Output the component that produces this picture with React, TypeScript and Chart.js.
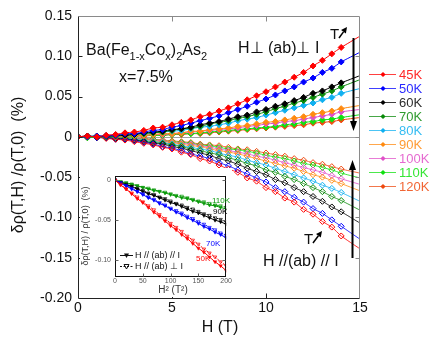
import React, { useEffect, useRef } from "react";
import { Chart, registerables } from "chart.js";

Chart.register(...registerables);

const FONT = "'Liberation Sans', Arial, Helvetica, sans-serif";

// ---------- main panel data ----------
const fieldH = [0, 0.5, 1, 1.5, 2, 2.5, 3, 3.5, 4, 4.5, 5, 5.5, 6, 6.5, 7, 7.5, 8, 8.5, 9, 9.5, 10, 10.5, 11, 11.5, 12, 12.5, 13, 13.5, 14, 15];
const temperatureLabels = ["45K", "50K", "60K", "70K", "80K", "90K", "100K", "110K", "120K"];
const seriesColors = ["#ff0000", "#0000ff", "#000000", "#0a8a0a", "#10b0f0", "#ff8a10", "#e050c8", "#10e010", "#ee4a10"];

// H ⊥ (ab) ⊥ I  (filled diamonds, positive)
const pos45K = [0.000, 0.001, 0.000, 0.002, 0.003, 0.005, 0.006, 0.008, 0.011, 0.012, 0.015, 0.018, 0.021, 0.025, 0.028, 0.032, 0.036, 0.041, 0.046, 0.051, 0.056, 0.062, 0.068, 0.074, 0.080, 0.088, 0.095, 0.103, 0.111, 0.125];
const pos50K = [0.000, 0.000, 0.001, 0.001, 0.002, 0.004, 0.004, 0.006, 0.008, 0.009, 0.012, 0.014, 0.017, 0.020, 0.023, 0.026, 0.030, 0.034, 0.038, 0.043, 0.047, 0.052, 0.057, 0.062, 0.068, 0.073, 0.080, 0.085, 0.093, 0.105];
const pos60K = [0.000, 0.001, 0.000, 0.001, 0.002, 0.002, 0.003, 0.005, 0.006, 0.007, 0.009, 0.010, 0.012, 0.015, 0.017, 0.019, 0.022, 0.025, 0.027, 0.031, 0.034, 0.038, 0.041, 0.045, 0.049, 0.054, 0.057, 0.062, 0.067, 0.076];
const pos70K = [0.000, 0.000, 0.001, 0.000, 0.001, 0.002, 0.003, 0.004, 0.005, 0.006, 0.008, 0.010, 0.011, 0.013, 0.016, 0.018, 0.020, 0.023, 0.025, 0.028, 0.031, 0.035, 0.038, 0.042, 0.045, 0.049, 0.053, 0.057, 0.062, 0.071];
const pos80K = [0.000, 0.001, 0.001, 0.002, 0.002, 0.003, 0.004, 0.004, 0.005, 0.006, 0.007, 0.008, 0.010, 0.012, 0.013, 0.015, 0.017, 0.020, 0.022, 0.024, 0.027, 0.030, 0.033, 0.036, 0.039, 0.042, 0.046, 0.049, 0.054, 0.060];
const pos90K = [0.000, 0.000, 0.001, 0.000, 0.001, 0.001, 0.002, 0.002, 0.003, 0.004, 0.004, 0.005, 0.007, 0.007, 0.009, 0.010, 0.011, 0.013, 0.014, 0.016, 0.018, 0.019, 0.021, 0.023, 0.025, 0.028, 0.030, 0.032, 0.035, 0.039];
const pos100K = [0.000, 0.001, 0.000, 0.001, 0.001, 0.001, 0.002, 0.002, 0.003, 0.003, 0.004, 0.005, 0.006, 0.007, 0.008, 0.009, 0.010, 0.011, 0.013, 0.014, 0.016, 0.017, 0.019, 0.020, 0.022, 0.024, 0.026, 0.028, 0.031, 0.034];
const pos110K = [0.000, -0.001, 0.000, 0.000, 0.001, 0.001, 0.001, 0.002, 0.002, 0.002, 0.003, 0.004, 0.004, 0.005, 0.006, 0.007, 0.008, 0.009, 0.010, 0.011, 0.012, 0.013, 0.015, 0.016, 0.018, 0.019, 0.021, 0.022, 0.024, 0.0275];
const pos120K = [0.000, 0.000, 0.000, 0.001, 0.000, 0.001, 0.001, 0.001, 0.002, 0.002, 0.003, 0.003, 0.004, 0.004, 0.005, 0.006, 0.007, 0.008, 0.009, 0.010, 0.011, 0.012, 0.013, 0.014, 0.015, 0.017, 0.018, 0.019, 0.021, 0.024];

// H // (ab) // I  (open diamonds, negative)
const neg45K = [0.000, -0.001, 0.000, -0.002, -0.003, -0.004, -0.006, -0.008, -0.010, -0.013, -0.015, -0.019, -0.022, -0.027, -0.030, -0.035, -0.040, -0.044, -0.051, -0.055, -0.063, -0.068, -0.076, -0.081, -0.090, -0.096, -0.105, -0.112, -0.123, -0.139];
const neg50K = [0.000, 0.000, -0.001, -0.001, -0.003, -0.003, -0.005, -0.007, -0.009, -0.012, -0.014, -0.017, -0.021, -0.024, -0.027, -0.032, -0.036, -0.041, -0.046, -0.051, -0.056, -0.063, -0.068, -0.075, -0.081, -0.089, -0.095, -0.103, -0.111, -0.127];
const neg60K = [0.000, 0.000, -0.001, -0.001, -0.002, -0.003, -0.004, -0.006, -0.008, -0.009, -0.012, -0.014, -0.017, -0.020, -0.023, -0.027, -0.030, -0.034, -0.039, -0.043, -0.047, -0.053, -0.057, -0.063, -0.068, -0.074, -0.080, -0.087, -0.093, -0.107];
const neg70K = [0.000, 0.000, 0.000, -0.001, -0.002, -0.002, -0.004, -0.005, -0.007, -0.008, -0.010, -0.012, -0.015, -0.017, -0.020, -0.022, -0.026, -0.029, -0.033, -0.036, -0.041, -0.044, -0.049, -0.053, -0.058, -0.063, -0.068, -0.074, -0.079, -0.091];
const neg80K = [0.000, -0.001, 0.000, -0.001, -0.001, -0.002, -0.003, -0.004, -0.006, -0.007, -0.009, -0.011, -0.013, -0.015, -0.017, -0.020, -0.023, -0.025, -0.029, -0.032, -0.035, -0.039, -0.043, -0.047, -0.051, -0.055, -0.060, -0.064, -0.069, -0.080];
const neg90K = [0.000, 0.000, -0.001, 0.000, -0.001, -0.002, -0.003, -0.003, -0.005, -0.006, -0.007, -0.009, -0.011, -0.012, -0.015, -0.017, -0.019, -0.021, -0.024, -0.027, -0.030, -0.033, -0.036, -0.039, -0.043, -0.047, -0.050, -0.054, -0.058, -0.067];
const neg100K = [0.000, 0.000, 0.000, -0.001, -0.001, -0.002, -0.002, -0.003, -0.004, -0.005, -0.007, -0.008, -0.009, -0.011, -0.013, -0.015, -0.017, -0.019, -0.021, -0.024, -0.026, -0.029, -0.032, -0.035, -0.038, -0.041, -0.044, -0.048, -0.052, -0.059];
const neg110K = [0.000, 0.000, 0.000, 0.000, -0.001, -0.001, -0.002, -0.003, -0.003, -0.005, -0.006, -0.007, -0.008, -0.010, -0.011, -0.013, -0.015, -0.016, -0.018, -0.020, -0.023, -0.025, -0.027, -0.030, -0.033, -0.035, -0.038, -0.041, -0.045, -0.051];
const neg120K = [0.000, 0.000, -0.001, 0.000, -0.001, -0.001, -0.002, -0.002, -0.003, -0.004, -0.005, -0.006, -0.007, -0.009, -0.010, -0.011, -0.013, -0.015, -0.016, -0.018, -0.020, -0.022, -0.024, -0.027, -0.029, -0.032, -0.034, -0.037, -0.040, -0.045];

const positiveSeries = [pos45K, pos50K, pos60K, pos70K, pos80K, pos90K, pos100K, pos110K, pos120K];
const negativeSeries = [neg45K, neg50K, neg60K, neg70K, neg80K, neg90K, neg100K, neg110K, neg120K];

const yTickValues = [0.15, 0.1, 0.05, 0, -0.05, -0.1, -0.15, -0.2];
const yTickLabels = ["0.15", "0.10", "0.05", "0", "-0.05", "-0.10", "-0.15", "-0.20"];
const xTickValues = [0, 5, 10, 15];
const xTickLabels = ["0", "5", "10", "15"];

// ---------- inset data ----------
const insetH2 = [0, 10, 20, 30, 40, 50, 60, 70, 80, 90, 100, 110, 120, 130, 140, 150, 160, 170, 180, 190, 200];
const insetTemps = ["50K", "70K", "90K", "110K"];
const insetColors = ["#ff0000", "#0000ff", "#000000", "#0a9a0a"];
const inset50Kpar = [0.000, -0.006, -0.011, -0.017, -0.023, -0.028, -0.034, -0.040, -0.045, -0.051, -0.057, -0.062, -0.068, -0.073, -0.079, -0.085, -0.090, -0.096, -0.102, -0.107, -0.113];
const inset50Kperp = [0.000, -0.005, -0.011, -0.016, -0.021, -0.027, -0.032, -0.037, -0.043, -0.048, -0.054, -0.059, -0.064, -0.070, -0.075, -0.080, -0.086, -0.091, -0.096, -0.102, -0.107];
const inset70Kpar = [0.000, -0.004, -0.007, -0.011, -0.014, -0.018, -0.022, -0.025, -0.029, -0.032, -0.036, -0.040, -0.043, -0.047, -0.050, -0.054, -0.058, -0.061, -0.065, -0.068, -0.072];
const inset70Kperp = [0.000, -0.003, -0.007, -0.010, -0.014, -0.017, -0.021, -0.024, -0.028, -0.031, -0.035, -0.038, -0.041, -0.045, -0.048, -0.052, -0.055, -0.059, -0.062, -0.066, -0.069];
const inset90Kpar = [0.000, -0.003, -0.006, -0.008, -0.011, -0.014, -0.017, -0.019, -0.022, -0.025, -0.028, -0.030, -0.033, -0.036, -0.039, -0.041, -0.044, -0.047, -0.050, -0.052, -0.055];
const inset90Kperp = [0.000, -0.003, -0.005, -0.008, -0.010, -0.013, -0.016, -0.018, -0.021, -0.023, -0.026, -0.029, -0.031, -0.034, -0.036, -0.039, -0.042, -0.044, -0.047, -0.049, -0.052];
const inset110Kpar = [0.000, -0.002, -0.004, -0.005, -0.007, -0.009, -0.011, -0.013, -0.014, -0.016, -0.018, -0.020, -0.022, -0.023, -0.025, -0.027, -0.029, -0.031, -0.032, -0.034, -0.036];
const inset110Kperp = [0.000, -0.002, -0.003, -0.005, -0.007, -0.009, -0.010, -0.012, -0.014, -0.015, -0.017, -0.019, -0.020, -0.022, -0.024, -0.026, -0.027, -0.029, -0.031, -0.032, -0.034];
const insetParSeries = [inset50Kpar, inset70Kpar, inset90Kpar, inset110Kpar];
const insetPerpSeries = [inset50Kperp, inset70Kperp, inset90Kperp, inset110Kperp];
const insetYTickValues = [0, -0.05, -0.1];
const insetYTickLabels = ["0", "-0.05", "-0.10"];
const insetXTickValues = [0, 50, 100, 150, 200];
const insetXTickLabels = ["0", "50", "100", "150", "200"];

// ---------- helpers ----------
function arrow(ctx: CanvasRenderingContext2D, x1: number, y1: number, x2: number, y2: number, lw: number, head: number, hw: number) {
  const ang = Math.atan2(y2 - y1, x2 - x1);
  const bx = x2 - head * Math.cos(ang);
  const by = y2 - head * Math.sin(ang);
  ctx.save();
  ctx.strokeStyle = "#000";
  ctx.fillStyle = "#000";
  ctx.lineWidth = lw;
  ctx.beginPath();
  ctx.moveTo(x1, y1);
  ctx.lineTo(bx, by);
  ctx.stroke();
  ctx.beginPath();
  ctx.moveTo(x2, y2);
  ctx.lineTo(bx + hw * Math.sin(ang), by - hw * Math.cos(ang));
  ctx.lineTo(bx - hw * Math.sin(ang), by + hw * Math.cos(ang));
  ctx.closePath();
  ctx.fill();
  ctx.restore();
}

function diamond(ctx: CanvasRenderingContext2D, x: number, y: number, r: number) {
  ctx.beginPath();
  ctx.moveTo(x, y - r);
  ctx.lineTo(x + r, y);
  ctx.lineTo(x, y + r);
  ctx.lineTo(x - r, y);
  ctx.closePath();
}

function richText(ctx: CanvasRenderingContext2D, parts: [string, boolean][], x: number, y: number, size: number, subSize: number) {
  let cx = x;
  for (const [t, sub] of parts) {
    ctx.font = `${sub ? subSize : size}px ${FONT}`;
    ctx.fillText(t, cx, sub ? y + 5 : y);
    cx += ctx.measureText(t).width;
  }
}

function fittedRotatedText(ctx: CanvasRenderingContext2D, text: string, cx: number, cy: number, size: number, length: number) {
  ctx.save();
  ctx.translate(cx, cy);
  ctx.rotate(-Math.PI / 2);
  ctx.font = `${size}px ${FONT}`;
  const w = ctx.measureText(text).width;
  const s = Math.min(1, length / w);
  ctx.scale(s, 1);
  ctx.textAlign = "center";
  ctx.textBaseline = "middle";
  ctx.fillText(text, 0, 0);
  ctx.restore();
}

const mainDecor = {
  id: "mainDecor",
  beforeDatasetsDraw(chart: any) {
    const { ctx, chartArea: a, scales } = chart;
    const y0 = Math.round(scales.y.getPixelForValue(0)) + 0.5;
    ctx.save();
    ctx.strokeStyle = "#a0a0a0";
    ctx.lineWidth = 1;
    ctx.beginPath();
    ctx.moveTo(a.left, y0);
    ctx.lineTo(a.right, y0);
    ctx.stroke();
    ctx.restore();
  },
  afterDraw(chart: any) {
    const { ctx, chartArea: a, scales } = chart;
    const L = Math.round(a.left) + 0.5, R = Math.round(a.right) - 0.5;
    const T = Math.round(a.top) + 0.5, B = Math.round(a.bottom) + 0.5;
    ctx.save();
    ctx.lineWidth = 1;
    // frame
    ctx.strokeStyle = "#8a8a8a";
    ctx.beginPath();
    ctx.moveTo(L, T); ctx.lineTo(R, T); ctx.lineTo(R, B);
    ctx.stroke();
    ctx.strokeStyle = "#222";
    ctx.beginPath();
    ctx.moveTo(L, T); ctx.lineTo(L, B); ctx.lineTo(R, B);
    ctx.stroke();
    // inward ticks
    for (const v of yTickValues) {
      const py = Math.round(scales.y.getPixelForValue(v)) + 0.5;
      if (py <= T + 1 || py >= B - 1) continue;
      ctx.strokeStyle = "#222";
      ctx.beginPath(); ctx.moveTo(L, py); ctx.lineTo(L + 4, py); ctx.stroke();
      ctx.strokeStyle = "#8a8a8a";
      ctx.beginPath(); ctx.moveTo(R, py); ctx.lineTo(R - 4, py); ctx.stroke();
    }
    for (const v of xTickValues) {
      const px = Math.round(scales.x.getPixelForValue(v)) + 0.5;
      if (px <= L + 1 || px >= R - 1) continue;
      ctx.strokeStyle = "#222";
      ctx.beginPath(); ctx.moveTo(px, B); ctx.lineTo(px, B - 5); ctx.stroke();
      ctx.strokeStyle = "#8a8a8a";
      ctx.beginPath(); ctx.moveTo(px, T); ctx.lineTo(px, T + 5); ctx.stroke();
    }

    // axis titles
    ctx.fillStyle = "#111";
    ctx.textAlign = "center";
    ctx.textBaseline = "middle";
    ctx.font = `16px ${FONT}`;
    ctx.fillText("H (T)", 220, 328);
    fittedRotatedText(ctx, "δρ(T,H) /ρ(T,0)  (%)", 19, 165, 16, 156);

    // annotations
    ctx.textAlign = "left";
    ctx.textBaseline = "alphabetic";
    ctx.fillStyle = "#111";
    richText(ctx, [["Ba(Fe", false], ["1-x", true], ["Co", false], ["x", true], [")", false], ["2", true], ["As", false], ["2", true]], 86, 55, 16, 11);
    ctx.font = `16px ${FONT}`;
    ctx.fillText("x=7.5%", 119, 82);
    ctx.fillText("H\u22A5 (ab)\u22A5 I", 238, 53);
    ctx.fillText("H //(ab) // I", 263, 266);
    ctx.font = `15px ${FONT}`;
    ctx.fillText("T", 330, 39);
    ctx.fillText("T", 304, 244);
    arrow(ctx, 339, 38, 347, 27, 1.5, 6, 3);
    arrow(ctx, 313, 243, 322, 231, 1.5, 6, 3);
    // vertical T-direction arrows
    arrow(ctx, 353.5, 38, 353.5, 131, 2, 10, 3.5);
    arrow(ctx, 352.5, 258, 352.5, 160, 2, 10, 3.5);

    // legend
    temperatureLabels.forEach((lab, i) => {
      const ly = 74 + 14 * i;
      const c = seriesColors[i];
      ctx.globalAlpha = 0.75;
      ctx.strokeStyle = c;
      ctx.lineWidth = 1;
      ctx.beginPath(); ctx.moveTo(369, ly + 0.5); ctx.lineTo(396, ly + 0.5); ctx.stroke();
      ctx.globalAlpha = 1;
      ctx.fillStyle = c;
      diamond(ctx, 383, ly + 0.5, 2.6);
      ctx.fill();
      ctx.globalAlpha = 0.85;
      ctx.font = `13px ${FONT}`;
      ctx.textBaseline = "middle";
      ctx.fillText(lab, 399, ly + 1);
      ctx.globalAlpha = 1;
    });
    ctx.restore();
  },
};

const insetDecor = {
  id: "insetDecor",
  afterDraw(chart: any) {
    const { ctx, chartArea: a, scales } = chart;
    const L = Math.round(a.left) + 0.5, R = Math.round(a.right) - 0.5;
    const T = Math.round(a.top) + 0.5, B = Math.round(a.bottom) - 0.5;
    ctx.save();
    ctx.strokeStyle = "#111";
    ctx.lineWidth = 1;
    ctx.strokeRect(L, T, R - L, B - T);
    ctx.strokeStyle = "#666";
    for (const v of insetXTickValues) {
      const px = Math.round(scales.x.getPixelForValue(v)) + 0.5;
      if (px <= L + 1 || px >= R - 1) continue;
      ctx.beginPath(); ctx.moveTo(px, B); ctx.lineTo(px, B - 3); ctx.stroke();
    }
    for (const v of insetYTickValues) {
      const py = Math.round(scales.y.getPixelForValue(v)) + 0.5;
      if (py <= T + 1 || py >= B - 1) continue;
      ctx.beginPath(); ctx.moveTo(L, py); ctx.lineTo(L + 3, py); ctx.stroke();
      ctx.beginPath(); ctx.moveTo(R, py); ctx.lineTo(R - 3, py); ctx.stroke();
    }
    // titles
    ctx.fillStyle = "#333";
    ctx.textAlign = "center";
    ctx.textBaseline = "middle";
    ctx.font = `10px ${FONT}`;
    ctx.fillText("H\u00B2 (T\u00B2)", 93, 122);
    fittedRotatedText(ctx, "δρ(T,H) / ρ(T,0)  (%)", 6, 58, 9, 88);
    // temperature labels
    ctx.textAlign = "left";
    ctx.font = `8px ${FONT}`;
    const labelPos: [number, number][] = [[116, 91], [126, 76], [133, 44], [132, 33]];
    insetTemps.forEach((t, i) => {
      ctx.fillStyle = insetColors[i];
      ctx.fillText(t, labelPos[i][0], labelPos[i][1]);
    });
    // legend
    ctx.strokeStyle = "#111";
    ctx.fillStyle = "#111";
    ctx.beginPath(); ctx.moveTo(40, 87.5); ctx.lineTo(53, 87.5); ctx.stroke();
    ctx.beginPath(); ctx.moveTo(46.5, 90); ctx.lineTo(44, 85.5); ctx.lineTo(49, 85.5); ctx.closePath(); ctx.fill();
    ctx.setLineDash([2, 1.5]);
    ctx.beginPath(); ctx.moveTo(40, 98.5); ctx.lineTo(53, 98.5); ctx.stroke();
    ctx.setLineDash([]);
    ctx.beginPath(); ctx.moveTo(46.5, 101); ctx.lineTo(44, 96.5); ctx.lineTo(49, 96.5); ctx.closePath(); ctx.stroke();
    ctx.fillStyle = "#111";
    ctx.font = `9px ${FONT}`;
    ctx.fillText("H // (ab) // I", 55, 88);
    ctx.fillText("H // (ab) \u22A5 I", 55, 99);
    ctx.restore();
  },
};

function buildMainConfig(): any {
  const radii = fieldH.map((h) => (h > 14 ? 0 : 3));
  const toXY = (vals: number[]) => fieldH.map((h, i) => ({ x: h, y: vals[i] }));
  const datasets: any[] = [];
  temperatureLabels.forEach((t, i) => {
    const c = seriesColors[i];
    datasets.push({
      label: `${t} H⊥ab`,
      data: toXY(positiveSeries[i]),
      borderColor: c,
      backgroundColor: c,
      borderWidth: 1,
      pointStyle: "rectRot",
      pointRadius: radii,
      pointBackgroundColor: c,
      pointBorderColor: c,
      pointBorderWidth: 1,
      tension: 0.2,
      order: i,
    });
    datasets.push({
      label: `${t} H//ab`,
      data: toXY(negativeSeries[i]),
      borderColor: c,
      backgroundColor: "rgba(0,0,0,0)",
      borderWidth: 0.8,
      pointStyle: "rectRot",
      pointRadius: radii,
      pointBackgroundColor: "rgba(255,255,255,0)",
      pointBorderColor: c,
      pointBorderWidth: 1,
      tension: 0.2,
      order: i + 10,
    });
  });
  return {
    type: "line",
    data: { datasets },
    options: {
      responsive: false,
      animation: false,
      devicePixelRatio: 1,
      events: [],
      layout: { padding: { left: 0, top: 16, right: 76, bottom: 0 } },
      plugins: { legend: { display: false }, tooltip: { enabled: false } },
      scales: {
        x: {
          type: "linear",
          min: 0,
          max: 15,
          afterBuildTicks: (s: any) => { s.ticks = xTickValues.map((value) => ({ value })); },
          afterFit: (s: any) => { s.height = 46; },
          grid: { display: false, drawTicks: false },
          border: { display: false },
          ticks: {
            callback: (_v: any, i: number) => xTickLabels[i],
            font: { size: 14, family: FONT },
            color: "#111",
            padding: 2,
            maxRotation: 0,
            autoSkip: false,
          },
        },
        y: {
          type: "linear",
          min: -0.2,
          max: 0.15,
          afterBuildTicks: (s: any) => { s.ticks = yTickValues.map((value) => ({ value })); },
          afterFit: (s: any) => { s.width = 78; },
          grid: { display: false, drawTicks: false },
          border: { display: false },
          ticks: {
            callback: (_v: any, i: number) => yTickLabels[i],
            font: { size: 14, family: FONT },
            color: "#111",
            padding: 6,
            autoSkip: false,
          },
        },
      },
    },
    plugins: [mainDecor],
  };
}

function buildInsetConfig(): any {
  const toXY = (vals: number[]) => insetH2.map((h, i) => ({ x: h, y: vals[i] }));
  const datasets: any[] = [];
  insetTemps.forEach((t, i) => {
    const c = insetColors[i];
    datasets.push({
      label: `${t} par`,
      data: toXY(insetParSeries[i]),
      borderColor: c,
      backgroundColor: c,
      borderWidth: 1,
      pointStyle: "triangle",
      rotation: 180,
      pointRadius: 2,
      pointBackgroundColor: c,
      pointBorderColor: c,
      pointBorderWidth: 0.5,
    });
    datasets.push({
      label: `${t} perp`,
      data: toXY(insetPerpSeries[i]),
      borderColor: c,
      backgroundColor: "rgba(0,0,0,0)",
      borderWidth: 1,
      borderDash: [2, 1.5],
      pointStyle: "triangle",
      rotation: 180,
      pointRadius: 2,
      pointBackgroundColor: "rgba(255,255,255,0)",
      pointBorderColor: c,
      pointBorderWidth: 0.7,
    });
  });
  return {
    type: "line",
    data: { datasets },
    options: {
      responsive: false,
      animation: false,
      devicePixelRatio: 1,
      events: [],
      layout: { padding: { left: 0, top: 8, right: 3, bottom: 0 } },
      plugins: { legend: { display: false }, tooltip: { enabled: false } },
      scales: {
        x: {
          type: "linear",
          min: 0,
          max: 200,
          afterBuildTicks: (s: any) => { s.ticks = insetXTickValues.map((value) => ({ value })); },
          afterFit: (s: any) => { s.height = 20; },
          grid: { display: false, drawTicks: false },
          border: { display: false },
          ticks: {
            callback: (_v: any, i: number) => insetXTickLabels[i],
            font: { size: 7, family: FONT },
            color: "#555",
            padding: 0,
            maxRotation: 0,
            autoSkip: false,
          },
        },
        y: {
          type: "linear",
          min: -0.121,
          max: 0.005,
          afterBuildTicks: (s: any) => { s.ticks = insetYTickValues.map((value) => ({ value })); },
          afterFit: (s: any) => { s.width = 35; },
          grid: { display: false, drawTicks: false },
          border: { display: false },
          ticks: {
            callback: (_v: any, i: number) => insetYTickLabels[i],
            font: { size: 7, family: FONT },
            color: "#555",
            padding: 4,
            autoSkip: false,
          },
        },
      },
    },
    plugins: [insetDecor],
  };
}

export default function App() {
  const mainRef = useRef<HTMLCanvasElement>(null);
  const insetRef = useRef<HTMLCanvasElement>(null);
  useEffect(() => {
    Chart.defaults.font.family = FONT;
    const main = new Chart(mainRef.current as HTMLCanvasElement, buildMainConfig());
    const inset = new Chart(insetRef.current as HTMLCanvasElement, buildInsetConfig());
    return () => {
      main.destroy();
      inset.destroy();
    };
  }, []);
  return (
    <div style={{ position: "absolute", left: 0, top: 0, width: 436, height: 344, background: "#fff", overflow: "hidden" }}>
      <canvas ref={mainRef} width={436} height={344} style={{ position: "absolute", left: 0, top: 0 }} />
      <canvas ref={insetRef} width={152} height={129} style={{ position: "absolute", left: 80, top: 168, background: "#fff" }} />
    </div>
  );
}
